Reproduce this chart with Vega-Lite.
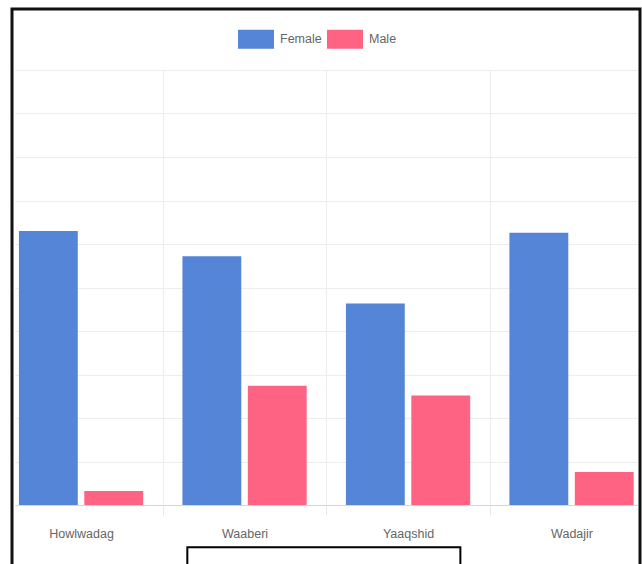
{
  "$schema": "https://vega.github.io/schema/vega-lite/v6.json",
  "width": 628,
  "height": 557,
  "autosize": "none",
  "padding": {"left": 12, "top": 9, "right": 2, "bottom": -2},
  "background": "white",
  "config": {
    "view": {"stroke": "#111111", "strokeWidth": 3, "fill": "white"},
    "font": "Liberation Sans, Arial, sans-serif"
  },
  "data": {
    "values": [
      {"district": "Howlwadag", "gender": "Female", "count": 63.0},
      {"district": "Howlwadag", "gender": "Male", "count": 3.2},
      {"district": "Waaberi", "gender": "Female", "count": 57.2},
      {"district": "Waaberi", "gender": "Male", "count": 27.4},
      {"district": "Yaaqshid", "gender": "Female", "count": 46.3},
      {"district": "Yaaqshid", "gender": "Male", "count": 25.2},
      {"district": "Wadajir", "gender": "Female", "count": 62.6},
      {"district": "Wadajir", "gender": "Male", "count": 7.6}
    ]
  },
  "layer": [
    {
      "mark": {"type": "bar"},
      "encoding": {
        "x": {
          "field": "district",
          "type": "nominal",
          "scale": {
            "domain": ["Howlwadag", "Waaberi", "Yaaqshid", "Wadajir"],
            "range": [-12.7, 641.3],
            "paddingInner": 0,
            "paddingOuter": 0
          },
          "axis": {
            "title": null,
            "orient": "bottom",
            "offset": -61,
            "domain": false,
            "ticks": true,
            "tickBand": "extent",
            "tickSize": 10,
            "tickColor": "#e8e8e8",
            "grid": true,
            "gridColor": "#ededed",
            "labelAngle": 0,
            "labelPadding": 12,
            "labelFontSize": 12.5,
            "labelColor": "#666666"
          }
        },
        "xOffset": {
          "field": "gender",
          "type": "nominal",
          "sort": ["Female", "Male"],
          "scale": {"paddingInner": 0.1, "paddingOuter": 0.3}
        },
        "y": {
          "field": "count",
          "type": "quantitative",
          "scale": {"domain": [0, 100], "range": [496, 61], "nice": false},
          "axis": {
            "title": null,
            "labels": false,
            "ticks": false,
            "domain": false,
            "grid": true,
            "gridDash": [0, 15.5, 622.5, 40],
            "values": [0, 10, 20, 30, 40, 50, 60, 70, 80, 90, 100],
            "gridColor": {"condition": {"test": "datum.value === 0", "value": "#d6d6d6"}, "value": "#ededed"}
          }
        },
        "color": {
          "field": "gender",
          "type": "nominal",
          "scale": {"domain": ["Female", "Male"], "range": ["#5585d6", "#ff6384"]},
          "legend": {
            "title": null,
            "orient": "none",
            "direction": "horizontal",
            "legendX": 226,
            "legendY": 12,
            "padding": 0,
            "symbolType": "M-1,-0.53H1V0.53H-1Z",
            "symbolSize": 1296,
            "symbolStrokeWidth": 0,
            "symbolOpacity": 1,
            "labelOffset": 6,
            "columnPadding": 5,
            "labelFontSize": 12.5,
            "labelColor": "#666666"
          }
        }
      }
    },
    {
      "data": {"values": [{}]},
      "mark": {"type": "rect", "fill": "white", "stroke": "black", "strokeWidth": 2},
      "encoding": {
        "x": {"datum": "Waaberi", "type": "nominal", "bandPosition": 0.15},
        "x2": {"datum": "Yaaqshid", "bandPosition": 0.82},
        "y": {"datum": -9.7, "type": "quantitative"},
        "y2": {"datum": -15}
      }
    }
  ]
}
